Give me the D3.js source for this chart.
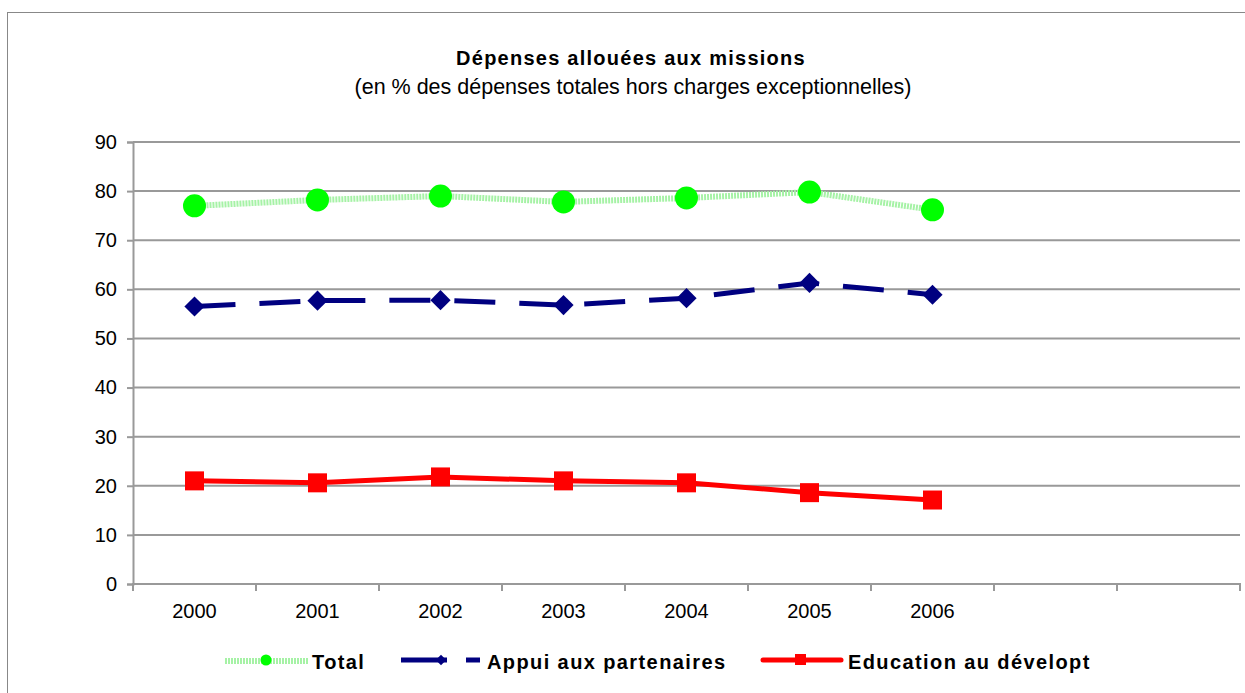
<!DOCTYPE html>
<html>
<head>
<meta charset="utf-8">
<script src="https://cdn.jsdelivr.net/npm/d3@7"></script>
<style>
body { margin: 0; background: #fff; }
text { font-family: "Liberation Sans", Arial, sans-serif; fill: #000; }
</style>
</head>
<body>
<div id="chart"></div>
<script>
// categories (two empty slots at the end, as in the original sheet)
var years = ["2000", "2001", "2002", "2003", "2004", "2005", "2006", "", " "];
var yTicks = [0, 10, 20, 30, 40, 50, 60, 70, 80, 90];

var total = [77.0, 78.2, 79.0, 77.8, 78.6, 79.8, 76.2];
var appui = [56.5, 57.7, 57.8, 56.8, 58.2, 61.3, 58.9];
var education = [21.0, 20.6, 21.8, 21.0, 20.6, 18.6, 17.1];

var legendNames = ["Total", "Appui aux partenaires", "Education au dévelopt"];

var W = 1245, H = 693;

var svg = d3.select("#chart").append("svg")
	.attr("width", W)
	.attr("height", H);

// outer frame
svg.append("rect")
	.attr("x", 7.5).attr("y", 12.5)
	.attr("width", W + 10).attr("height", H + 10)
	.attr("fill", "none")
	.attr("stroke", "#888")
	.attr("stroke-width", 1);

svg.append("text")
	.attr("x", 631).attr("y", 65)
	.attr("text-anchor", "middle")
	.style("font-size", "20px")
	.style("font-weight", "bold")
	.style("letter-spacing", "1.25px")
	.text("Dépenses allouées aux missions");

svg.append("text")
	.attr("x", 633).attr("y", 94)
	.attr("text-anchor", "middle")
	.style("font-size", "21.5px")
	.text("(en % des dépenses totales hors charges exceptionnelles)");

var x = d3.scaleBand().domain(years).range([133, 1240]);
var y = d3.scaleLinear().domain([0, 90]).range([584, 142]);

// gridlines
svg.append("g").selectAll("line")
	.data(yTicks.filter(function(d) { return d > 0; }))
	.enter().append("line")
	.attr("x1", 133).attr("x2", 1240)
	.attr("y1", function(d) { return y(d); })
	.attr("y2", function(d) { return y(d); })
	.attr("stroke", "#999")
	.attr("stroke-width", 2);

// y axis
var yAxis = svg.append("g")
	.attr("transform", "translate(133,0)")
	.call(d3.axisLeft(y).tickValues(yTicks).tickSize(6).tickPadding(10));
yAxis.select(".domain").attr("stroke", "#999").attr("stroke-width", 2);
yAxis.selectAll(".tick line").attr("stroke", "#999").attr("stroke-width", 2);
yAxis.selectAll("text").style("font-size", "20px").attr("fill", "#000")
	.attr("font-family", "Liberation Sans, Arial, sans-serif");

// x axis: labels centred in band, tick marks at band edges
var xAxis = svg.append("g")
	.attr("transform", "translate(0,584)")
	.call(d3.axisBottom(x).tickSize(0).tickPadding(20));
xAxis.select(".domain").remove();
xAxis.selectAll("text").style("font-size", "20px").attr("fill", "#000")
	.attr("font-family", "Liberation Sans, Arial, sans-serif");
svg.append("line")
	.attr("x1", 132).attr("x2", 1241)
	.attr("y1", 584).attr("y2", 584)
	.attr("stroke", "#999").attr("stroke-width", 2);
svg.append("g").selectAll("line")
	.data(d3.range(years.length + 1))
	.enter().append("line")
	.attr("x1", function(i) { return 133 + i * x.step(); })
	.attr("x2", function(i) { return 133 + i * x.step(); })
	.attr("y1", 584).attr("y2", 591)
	.attr("stroke", "#999").attr("stroke-width", 2);

function cx(i) { return x(years[i]) + x.bandwidth() / 2; }
var line = d3.line()
	.x(function(d, i) { return cx(i); })
	.y(function(d) { return y(d); });

// Total - light green textured line
svg.append("path").datum(total)
	.attr("d", line)
	.attr("fill", "none")
	.attr("stroke", "#a6f2a6")
	.attr("stroke-width", 6)
	.attr("stroke-dasharray", "2,1");
svg.append("g").selectAll("circle")
	.data(total).enter().append("circle")
	.attr("cx", function(d, i) { return cx(i); })
	.attr("cy", function(d) { return y(d); })
	.attr("r", 11.5)
	.attr("fill", "#00ff00");

// Appui - navy dashed line
svg.append("path").datum(appui)
	.attr("d", line)
	.attr("fill", "none")
	.attr("stroke", "#000080")
	.attr("stroke-width", 5)
	.attr("stroke-dasharray", "41,24");
var diamond = d3.symbol().type(d3.symbolDiamond2).size(260);
svg.append("g").selectAll("path")
	.data(appui).enter().append("path")
	.attr("d", diamond)
	.attr("transform", function(d, i) { return "translate(" + cx(i) + "," + y(d) + ")"; })
	.attr("fill", "#000080");

// Education - red line with squares
svg.append("path").datum(education)
	.attr("d", line)
	.attr("fill", "none")
	.attr("stroke", "#ff0000")
	.attr("stroke-width", 5);
svg.append("g").selectAll("rect")
	.data(education).enter().append("rect")
	.attr("x", function(d, i) { return cx(i) - 9.5; })
	.attr("y", function(d) { return y(d) - 9.5; })
	.attr("width", 19).attr("height", 19)
	.attr("fill", "#ff0000");

// legend
var ly = 661;
var lg = svg.append("g");
lg.append("line").attr("x1", 225).attr("x2", 308).attr("y1", ly).attr("y2", ly)
	.attr("stroke", "#a6f2a6").attr("stroke-width", 6).attr("stroke-dasharray", "2,1");
lg.append("circle").attr("cx", 266).attr("cy", ly - 1).attr("r", 5.5).attr("fill", "#00ff00");
lg.append("line").attr("x1", 401).attr("x2", 447).attr("y1", ly - 1).attr("y2", ly - 1)
	.attr("stroke", "#000080").attr("stroke-width", 5);
lg.append("path").attr("d", d3.symbol().type(d3.symbolDiamond2).size(70))
	.attr("transform", "translate(441," + (ly - 1) + ")").attr("fill", "#000080");
lg.append("line").attr("x1", 466).attr("x2", 480).attr("y1", ly - 1).attr("y2", ly - 1)
	.attr("stroke", "#000080").attr("stroke-width", 5);
lg.append("line").attr("x1", 763).attr("x2", 841).attr("y1", ly - 1).attr("y2", ly - 1)
	.attr("stroke", "#ff0000").attr("stroke-width", 5).attr("stroke-linecap", "round");
lg.append("rect").attr("x", 795).attr("y", ly - 7).attr("width", 11).attr("height", 11)
	.attr("fill", "#ff0000");

var legendX = [312, 487, 848];
lg.selectAll("text")
	.data(legendNames).enter().append("text")
	.attr("x", function(d, i) { return legendX[i]; })
	.attr("y", ly + 8)
	.style("font-size", "20px")
	.style("font-weight", "bold")
	.style("letter-spacing", "1.4px")
	.text(function(d) { return d; });
</script>
</body>
</html>
